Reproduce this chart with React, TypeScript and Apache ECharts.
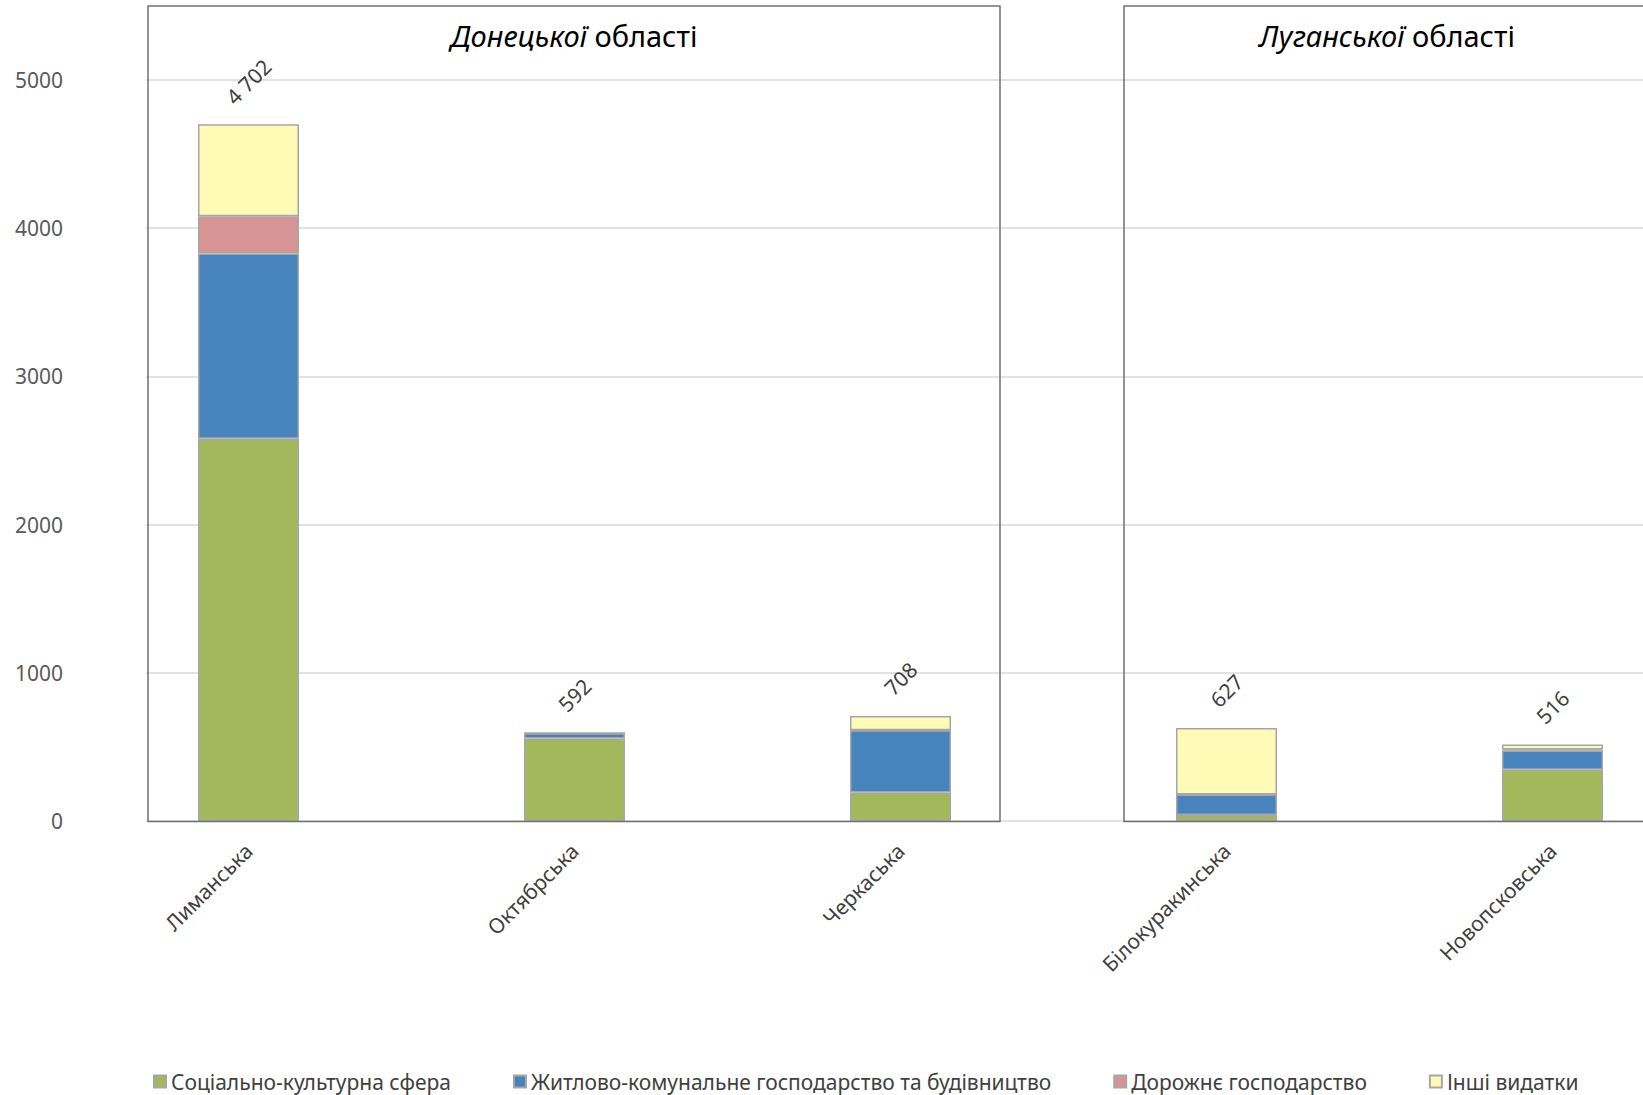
import { useEffect, useRef } from "react";
import * as echarts from "echarts";

const categories = ["Лиманська", "Октябрська", "Черкаська", "Білокуракинська", "Новопсковська"];
const seriesNames = [
  "Соціально-культурна сфера",
  "Житлово-комунальне господарство та будівництво",
  "Дорожнє господарство",
  "Інші видатки",
];
const socialCultural = [2580, 556, 193, 41, 346];
const housingConstruction = [1250, 36, 419, 138, 129];
const roads = [250, 0, 0, 0, 8];
const otherExpenses = [622, 0, 96, 448, 33];
const totals = [4702, 592, 708, 627, 516];
const yMin = 0;
const yMax = 5000;
const yInterval = 1000;
const panelTitlesItalic = ["Донецької", "Луганської"];
const panelTitleRest = "області";

const FONT = "'Noto Sans', 'Open Sans', sans-serif";
const colors = ["#A2B85A", "#4784BD", "#D69594", "#FFFBB7"];
const CHART_W = 1720;
const VIEW_W = 1643;
const VIEW_H = 1095;

function fmt(v: number): string {
  return String(v).replace(/\B(?=(\d{3})+(?!\d))/g, " ");
}

export default function App() {
  const ref = useRef<HTMLDivElement>(null);
  useEffect(() => {
    if (!ref.current) return;
    const chart = echarts.init(ref.current, undefined, { renderer: "svg" });
    const dataSets = [socialCultural, housingConstruction, roads, otherExpenses];
    const last = dataSets.length - 1;
    const series: any[] = dataSets.map((d, i) => ({
      name: seriesNames[i],
      type: "bar",
      stack: "total",
      xAxisIndex: 0,
      yAxisIndex: 0,
      barWidth: 101,
      data:
        i === last
          ? d.map((v, k) => ({
              value: v,
              label: { distance: 30 + 2.5 * fmt(totals[k]).length },
            }))
          : d,
      itemStyle: { color: colors[i], borderColor: "#A6A6A6", borderWidth: 1.5 },
      label:
        i === last
          ? {
              show: true,
              position: "top",
              rotate: 45,
              align: "center",
              verticalAlign: "middle",
              color: "#404040",
              fontSize: 21,
              fontFamily: FONT,
              formatter: (p: any) => fmt(totals[p.dataIndex]),
            }
          : { show: false },
    }));

    const option: any = {
      animation: false,
      backgroundColor: "#ffffff",
      grid: [
        { left: 85.5, right: CHART_W - 1715.5, top: 80, bottom: 274 },
        { left: 146, right: CHART_W - VIEW_W, top: 80, bottom: 274 },
      ],
      xAxis: [
        {
          type: "category",
          gridIndex: 0,
          data: categories,
          axisLine: { show: false },
          axisTick: { show: false },
          axisLabel: {
            rotate: 45,
            margin: 26,
            color: "#404040",
            fontSize: 21,
            fontFamily: FONT,
            interval: 0,
          },
        },
        { type: "category", gridIndex: 1, data: ["a"], show: false },
      ],
      yAxis: [
        { type: "value", gridIndex: 0, min: yMin, max: yMax, interval: yInterval, show: false },
        {
          type: "value",
          gridIndex: 1,
          min: yMin,
          max: yMax,
          interval: yInterval,
          axisLine: { show: false },
          axisTick: { show: false },
          axisLabel: {
            margin: 83,
            color: "#595959",
            fontSize: 21,
            fontFamily: FONT,
            formatter: (v: number) => String(v),
          },
          splitLine: { show: true, lineStyle: { color: "#D9D9D9", width: 1.5 } },
        },
      ],
      legend: {
        data: seriesNames,
        left: 148,
        top: 1066,
        icon: "rect",
        itemWidth: 12,
        itemHeight: 12,
        itemGap: 62,
        textStyle: { color: "#404040", fontSize: 21, fontFamily: FONT },
      },
      graphic: [
        {
          type: "rect",
          z: 10,
          shape: { x: 148, y: 6, width: 852, height: 815.5 },
          style: { fill: "none", stroke: "#707070", lineWidth: 1.5 },
        },
        {
          type: "rect",
          z: 10,
          shape: { x: 1124, y: 6, width: 600, height: 815.5 },
          style: { fill: "none", stroke: "#707070", lineWidth: 1.5 },
        },
        {
          type: "text",
          x: 574,
          y: 35,
          style: {
            text: "{i|" + panelTitlesItalic[0] + "} " + panelTitleRest,
            align: "center",
            verticalAlign: "middle",
            fill: "#000000",
            font: "29px " + FONT,
            rich: { i: { fontStyle: "italic", fontSize: 29, fontFamily: FONT, fill: "#000000" } },
          },
        },
        {
          type: "text",
          x: 1387,
          y: 35,
          style: {
            text: "{i|" + panelTitlesItalic[1] + "} " + panelTitleRest,
            align: "center",
            verticalAlign: "middle",
            fill: "#000000",
            font: "29px " + FONT,
            rich: { i: { fontStyle: "italic", fontSize: 29, fontFamily: FONT, fill: "#000000" } },
          },
        },
      ],
      series,
    };
    chart.setOption(option);
    return () => chart.dispose();
  }, []);
  return (
    <div
      style={{
        position: "fixed",
        left: 0,
        top: 0,
        width: VIEW_W,
        height: VIEW_H,
        overflow: "hidden",
        background: "#fff",
      }}
    >
      <div ref={ref} style={{ width: CHART_W, height: VIEW_H }} />
    </div>
  );
}
